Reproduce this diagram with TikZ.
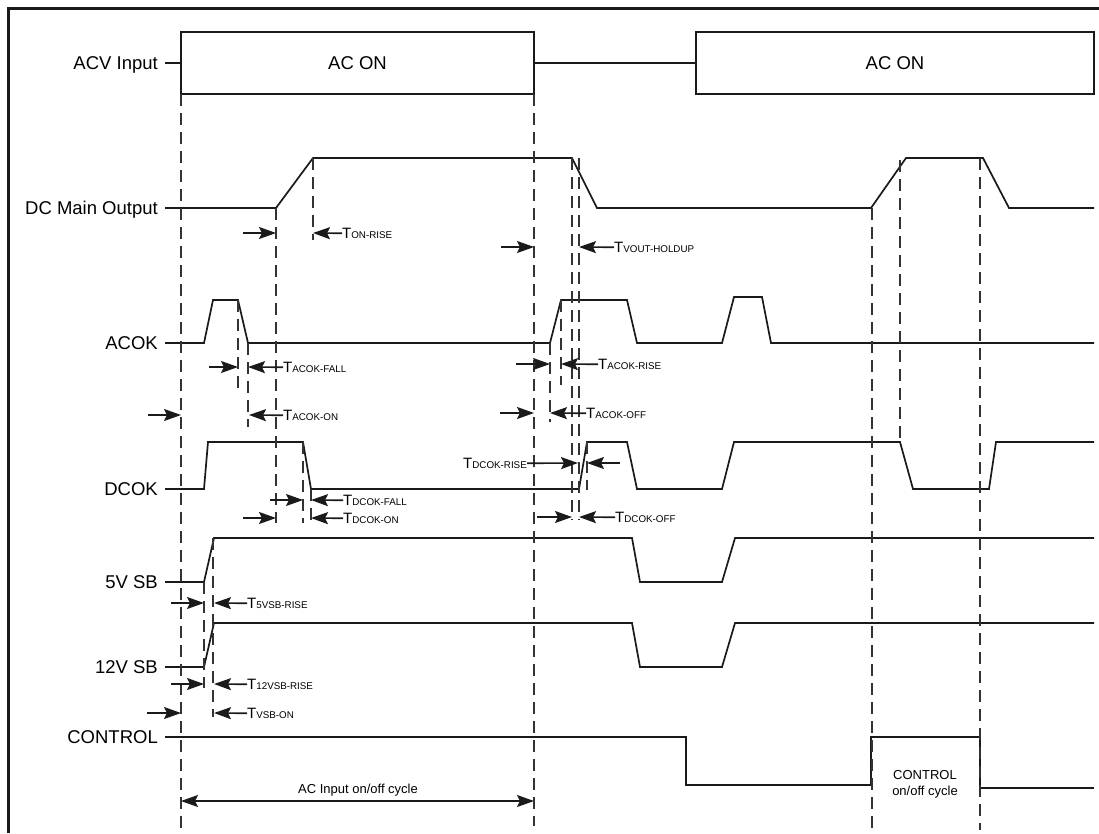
\documentclass[tikz,border=0pt]{standalone}
\usepackage{fontspec}
\setmainfont{Liberation Sans}
\usetikzlibrary{arrows.meta}
\definecolor{ink}{HTML}{1A1A1A}
\definecolor{dashc}{HTML}{333333}
\newcommand{\Tsub}[1]{{\fontsize{15}{15}\selectfont T}{\fontsize{9.8}{9.8}\selectfont #1}}
\begin{document}
\begin{tikzpicture}[x=1pt,y=-1pt,
  sig/.style={line width=1.7pt, draw=ink, line join=miter},
  guide/.style={line width=1.6pt, draw=dashc, dash pattern=on 12pt off 7pt},
  tarr/.style={line width=1.6pt, draw=ink, -{Stealth[length=17pt,width=12pt,inset=3pt]}},
  dblarr/.style={line width=1.6pt, draw=ink, {Stealth[length=17pt,width=12pt,inset=3pt]}-{Stealth[length=17pt,width=12pt,inset=3pt]}},
  lbl/.style={font=\fontsize{18.5}{18.5}\selectfont, anchor=base east, inner sep=0pt},
  big/.style={font=\fontsize{18.5}{18.5}\selectfont, inner sep=0pt},
  tlbl/.style={anchor=base west, inner sep=0pt},
  small/.style={font=\fontsize{13}{16}\selectfont, inner sep=0pt, align=center}]
\useasboundingbox (0,0) rectangle (1099,833);
\fill[white] (0,0) rectangle (1099,833);
% frame
\draw[line width=3pt, draw=ink] (8,833) -- (8,8) -- (1099,8);

% signal names
\node[lbl] (acv)  at (158,69.6)  {ACV Input};
\node[lbl] (dcm)  at (158,214.6) {DC Main Output};
\node[lbl] (acok) at (158,349.6) {ACOK};
\node[lbl] (dcok) at (158,495.6) {DCOK};
\node[lbl] (v5)   at (158,588.6) {5V SB};
\node[lbl] (v12)  at (158,673.6) {12V SB};
\node[lbl] (ctl)  at (158,743.6) {CONTROL};

% ACV input
\draw[sig] (165,63) -- (181,63);
\draw[sig] (181,32) rectangle (534,94);
\draw[sig] (534,63) -- (696,63);
\draw[sig] (696,32) rectangle (1094,94);
\node[big] (on1) at (357.5,63) {AC ON};
\node[big] (on2) at (895,63) {AC ON};

% waveforms
\draw[sig] (165,208) -- (276,208) -- (313,158) -- (572,158) -- (597,208) -- (871,208) -- (906,158) -- (983,158) -- (1009,208) -- (1094,208);
\draw[sig] (165,343) -- (204,343) -- (213,300) -- (238,300) -- (248,343) -- (550,343) -- (561,300) -- (627,300) -- (637,343) -- (722,343) -- (734,297) -- (762,297) -- (771,343) -- (1094,343);
\draw[sig] (165,489) -- (204,489) -- (208,442) -- (303,442) -- (311,489) -- (579,489) -- (587,442) -- (627,442) -- (637,489) -- (722,489) -- (734,442) -- (900,442) -- (913,489) -- (989,489) -- (996,442) -- (1094,442);
\draw[sig] (165,582) -- (204,582) -- (214,538) -- (632,538) -- (640,582) -- (722,582) -- (735,538) -- (1094,538);
\draw[sig] (165,667) -- (204,667) -- (214,623) -- (632,623) -- (640,667) -- (722,667) -- (735,623) -- (1094,623);
\draw[sig] (165,737) -- (686,737) -- (686,785) -- (871,785) -- (871,737) -- (980,737) -- (980,788) -- (1094,788);

% guide lines
\draw[guide] (181,94) -- (181,830);
\draw[guide] (534,94) -- (534,826);
\draw[guide] (276,208) -- (276,523);
\draw[guide] (313,158) -- (313,240);
\draw[guide] (572,158) -- (572,520);
\draw[guide] (579,158) -- (579,520);
\draw[guide] (238,300) -- (238,395);
\draw[guide] (248,343) -- (248,427);
\draw[guide] (550,343) -- (550,422);
\draw[guide] (561,300) -- (561,385);
\draw[guide] (303,442) -- (303,523);
\draw[guide] (311,489) -- (311,523);
\draw[guide] (587,442) -- (587,490);
\draw[guide] (872,208) -- (872,830);
\draw[guide] (900,160) -- (900,442);
\draw[guide] (980,158) -- (980,830);
\draw[guide] (204,582) -- (204,688);
\draw[guide] (213,538) -- (213,717);

% timing labels
\node[tlbl] (tonr)  at (342,238.4) {\Tsub{ON-RISE}};
\node[tlbl] (thold) at (614,252.4) {\Tsub{VOUT-HOLDUP}};
\node[tlbl] (tacf)  at (283,372.4) {\Tsub{ACOK-FALL}};
\node[tlbl] (tacon) at (283,420.4) {\Tsub{ACOK-ON}};
\node[tlbl] (tacr)  at (598,369.4) {\Tsub{ACOK-RISE}};
\node[tlbl] (tacof) at (586,418.4) {\Tsub{ACOK-OFF}};
\node[anchor=base east, inner sep=0pt] (tdcr) at (527,468.4) {\Tsub{DCOK-RISE}};
\node[tlbl] (tdcf)  at (343,505.4) {\Tsub{DCOK-FALL}};
\node[tlbl] (tdcon) at (343,523.4) {\Tsub{DCOK-ON}};
\node[tlbl] (tdcof) at (615,522.4) {\Tsub{DCOK-OFF}};
\node[tlbl] (t5r)   at (247,608.4) {\Tsub{5VSB-RISE}};
\node[tlbl] (t12r)  at (247,689.4) {\Tsub{12VSB-RISE}};
\node[tlbl] (tvon)  at (247,718.4) {\Tsub{VSB-ON}};

% arrows
\draw[tarr] (243,233) -- (276,233);
\draw[tarr] (tonr.west) -- (313,233);
\draw[tarr] (501,247) -- (534,247);
\draw[tarr] (thold.west) -- (579,247);
\draw[tarr] (209,367) -- (238,367);
\draw[tarr] (tacf.west) -- (248,367);
\draw[tarr] (148,415) -- (181,415);
\draw[tarr] (tacon.west) -- (249,415);
\draw[tarr] (516,364) -- (550,364);
\draw[tarr] (tacr.west) -- (561,364);
\draw[tarr] (500,413) -- (534,413);
\draw[tarr] (tacof.west) -- (550,413);
\draw[tarr] (tdcr.east) -- (578,463);
\draw[tarr] (620,463) -- (587,463);
\draw[tarr] (270,500) -- (303,500);
\draw[tarr] (tdcf.west) -- (311,500);
\draw[tarr] (243,518) -- (276,518);
\draw[tarr] (tdcon.west) -- (311,518);
\draw[tarr] (537,517) -- (572,517);
\draw[tarr] (tdcof.west) -- (579,517);
\draw[tarr] (171,603) -- (204,603);
\draw[tarr] (t5r.west) -- (214,603);
\draw[tarr] (171,684) -- (204,684);
\draw[tarr] (t12r.west) -- (214,684);
\draw[tarr] (147,713) -- (181,713);
\draw[tarr] (tvon.west) -- (214,713);

% cycles
\node[small, anchor=base] (accyc) at (358,793) {AC Input on/off cycle};
\draw[dblarr] (181,801) -- (534,801);
\node[small, anchor=base] (ctlcyc) at (925,795) {CONTROL\\on/off cycle};
\end{tikzpicture}
\end{document}
